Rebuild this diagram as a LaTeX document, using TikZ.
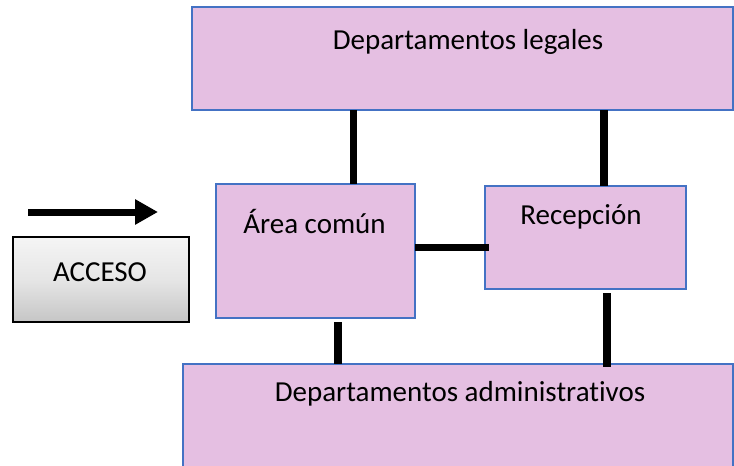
\documentclass[tikz,border=0pt]{standalone}
\usepackage{fontspec}
\setmainfont{Carlito}[Ligatures=NoCommon]
\usetikzlibrary{arrows.meta}
\definecolor{boxfill}{HTML}{E5BFE2}
\definecolor{boxline}{HTML}{4472C4}
\begin{document}
\begin{tikzpicture}[x=1pt,y=-1pt,
  room/.style={draw=boxline, line width=2pt, fill=boxfill, inner sep=0pt, outer sep=0pt},
  lbl/.style={anchor=base, inner sep=0pt, font=\fontsize{29}{34}\selectfont},
  conn/.style={line width=7.5pt, black},
]
\useasboundingbox (0,0) rectangle (734,466);
\begin{scope}
\clip (0,0) rectangle (734,466);
% boxes
\node[room, minimum width=541pt, minimum height=103pt] (leg) at (462.5,58.5) {};
\node[room, minimum width=199pt, minimum height=134pt] (area) at (315.5,251) {};
\node[room, minimum width=201pt, minimum height=103pt] (rec) at (585.5,237.5) {};
\node[room, minimum width=550pt, minimum height=110pt] (adm) at (458,419) {};
\node[draw=black, line width=2pt, top color=gray!8, bottom color=gray!45, middle color=gray!20, inner sep=0pt, outer sep=0pt,
      minimum width=176pt, minimum height=85pt] (acc) at (101,279.5) {};
% labels
\node[lbl] (legt) at (468,49) {Departamentos legales};
\node[lbl] (areat) at (314.5,233) {Área común};
\node[lbl] (rect) at (581,224) {Recepción};
\node[lbl] (admt) at (460,401) {Departamentos administrativos};
\node[lbl] (acct) at (100,281) {ACCESO};
% connector positions
\coordinate (c1) at (353.5,0);
\coordinate (c2) at (604,0);
\coordinate (c3) at (338,0);
\coordinate (c4) at (607,0);
\coordinate (h1) at (0,247.5);
\draw[conn] (leg.south -| c1) -- (area.north -| c1);
\draw[conn] (leg.south -| c2) -- (rec.north -| c2);
\draw[conn] (area.east |- h1) -- ([xshift=4pt]rec.west |- h1);
\draw[conn] ([yshift=-4pt]area.south -| c3) -- (adm.north -| c3);
\draw[conn] ([yshift=-4pt]rec.south -| c4) -- ([yshift=-3pt]adm.north -| c4);
% arrow
\coordinate (a1) at (28,212);
\coordinate (a2) at (158,212);
\draw[line width=7pt, -{Triangle[length=23pt,width=24pt]}] (a1) -- (a2);
\end{scope}
\end{tikzpicture}
\end{document}
